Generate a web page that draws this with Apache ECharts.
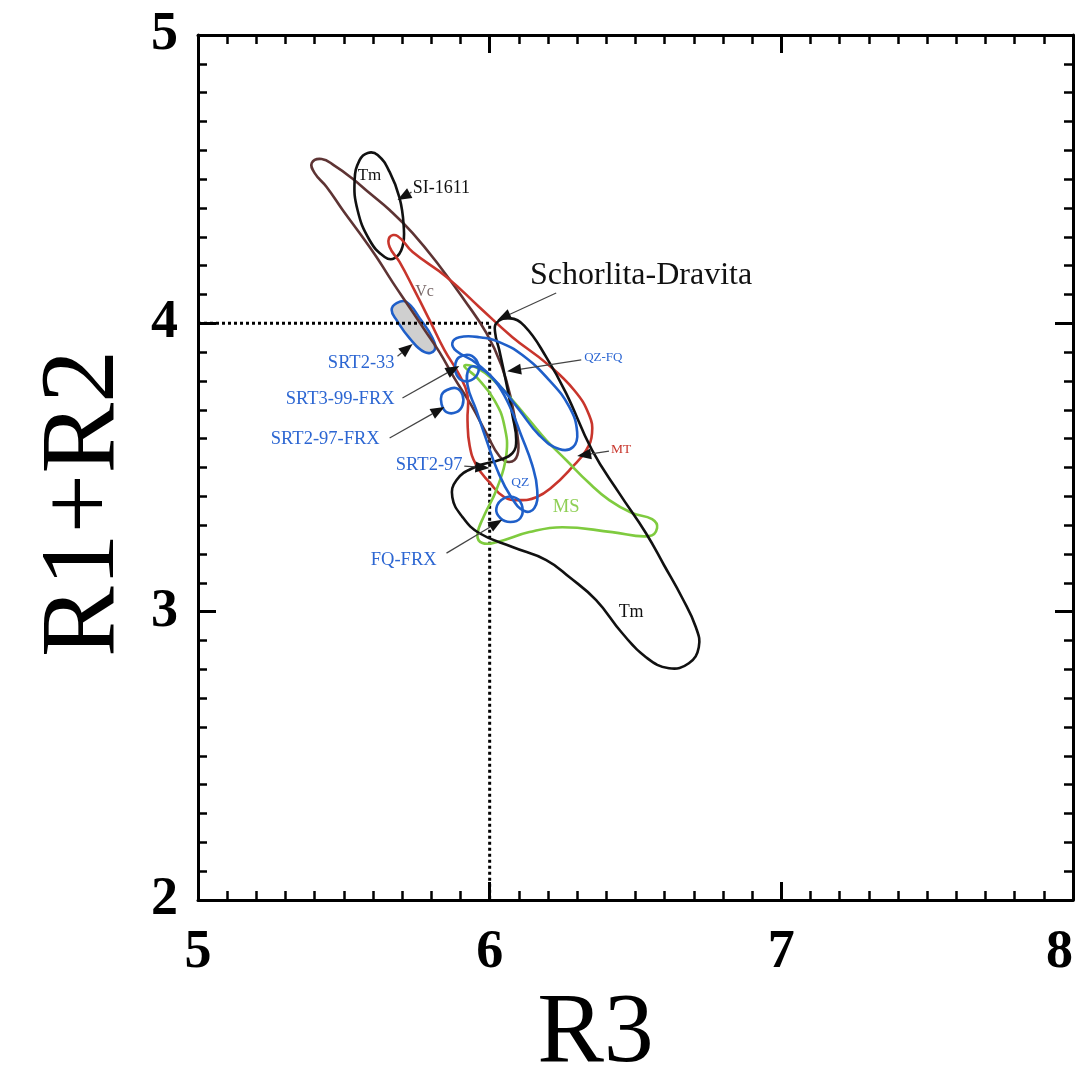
<!DOCTYPE html>
<html><head><meta charset="utf-8">
<script src="https://cdn.jsdelivr.net/npm/echarts@6/dist/echarts.min.js"></script>
<style>html,body{margin:0;padding:0;background:#fff}#chart{width:1089px;height:1081px}</style>
</head><body><div id="chart"></div>
<script>
// ---------------- DATA (axis units) ----------------
const xRange = [5, 8];
const yRange = [2, 5];
const xTickLabels = ['5', '6', '7', '8'];
const yTickLabels = ['2', '3', '4', '5'];
const xName = 'R3';
const yName = 'R1+R2';

// Vc field (brown)
const vcField = [[5.390,4.556],[5.424,4.570],[5.469,4.546],[5.527,4.504],[5.588,4.452],[5.657,4.393],[5.736,4.313],[5.828,4.199],[5.913,4.081],[5.989,3.966],[6.040,3.855],[6.074,3.734],[6.095,3.612],[6.095,3.543],[6.067,3.519],[6.033,3.540],[5.992,3.612],[5.937,3.716],[5.879,3.810],[5.828,3.900],[5.777,3.977],[5.725,4.056],[5.667,4.143],[5.612,4.230],[5.554,4.313],[5.496,4.393],[5.441,4.473],[5.400,4.521]];
// Tm SI-1611 (black, small)
const tmSI1611 = [[5.582,4.591],[5.616,4.584],[5.657,4.525],[5.691,4.435],[5.705,4.341],[5.701,4.265],[5.674,4.226],[5.640,4.230],[5.588,4.289],[5.547,4.393],[5.537,4.497],[5.554,4.566]];
// MT field (red)
const mtField = [[5.657,4.299],[5.684,4.303],[5.736,4.247],[5.852,4.161],[5.965,4.056],[6.078,3.952],[6.194,3.862],[6.290,3.768],[6.341,3.682],[6.351,3.619],[6.331,3.560],[6.283,3.501],[6.214,3.432],[6.160,3.397],[6.102,3.387],[6.050,3.397],[5.999,3.449],[5.954,3.508],[5.931,3.578],[5.924,3.664],[5.924,3.751],[5.896,3.821],[5.845,3.907],[5.794,4.011],[5.742,4.115],[5.691,4.213],[5.657,4.265]];
// Tm Schorlita-Dravita (black, large)
const tmSchorlDrav = [[6.023,4.001],[6.067,4.018],[6.119,3.991],[6.194,3.883],[6.262,3.758],[6.351,3.560],[6.444,3.411],[6.536,3.272],[6.598,3.161],[6.659,3.050],[6.707,2.946],[6.717,2.877],[6.683,2.821],[6.615,2.804],[6.536,2.842],[6.454,2.926],[6.365,3.040],[6.273,3.120],[6.194,3.179],[6.078,3.224],[5.965,3.272],[5.907,3.328],[5.872,3.397],[5.886,3.456],[5.948,3.501],[6.033,3.526],[6.078,3.550],[6.091,3.595],[6.078,3.682],[6.057,3.793],[6.033,3.907],[6.019,3.966]];
// MS field (green)
const msField = [[5.913,3.852],[5.958,3.845],[6.023,3.793],[6.078,3.734],[6.136,3.664],[6.194,3.595],[6.262,3.526],[6.341,3.446],[6.410,3.387],[6.488,3.342],[6.557,3.321],[6.574,3.290],[6.546,3.262],[6.420,3.276],[6.249,3.293],[6.136,3.276],[6.023,3.241],[5.975,3.238],[5.958,3.266],[5.982,3.335],[6.023,3.422],[6.057,3.543],[6.050,3.647],[6.016,3.734],[5.958,3.810]];
// QZ-FQ (blue)
const qzfqField = [[5.872,3.932],[5.896,3.952],[5.965,3.952],[6.033,3.935],[6.112,3.890],[6.204,3.803],[6.273,3.710],[6.300,3.623],[6.286,3.571],[6.238,3.564],[6.170,3.612],[6.102,3.699],[6.033,3.786],[5.954,3.862],[5.886,3.904]];
// QZ (blue)
const qzField = [[5.931,3.845],[5.965,3.845],[6.016,3.803],[6.067,3.716],[6.108,3.612],[6.146,3.508],[6.163,3.422],[6.153,3.359],[6.119,3.349],[6.074,3.397],[6.026,3.491],[5.989,3.595],[5.954,3.699],[5.924,3.786]];
// SRT3-99-FRX (blue loop)
const srt399frx = [[5.896,3.883],[5.931,3.890],[5.958,3.866],[5.961,3.831],[5.937,3.803],[5.903,3.803],[5.883,3.831],[5.883,3.862]];
// SRT2-97-FRX (blue loop)
const srt297frx = [[5.852,3.768],[5.886,3.775],[5.907,3.751],[5.907,3.716],[5.886,3.692],[5.852,3.692],[5.835,3.720],[5.835,3.751]];
// FQ-FRX (blue loop)
const fqfrx = [[6.050,3.394],[6.091,3.394],[6.112,3.363],[6.105,3.324],[6.071,3.311],[6.037,3.324],[6.023,3.359]];
// SRT2-33 (blue, grey filled)
const srt233 = [[5.681,4.070],[5.715,4.074],[5.760,4.018],[5.804,3.949],[5.811,3.907],[5.777,3.900],[5.725,3.949],[5.681,4.011],[5.664,4.046]];

// dotted reference lines (R3 = 6, R1+R2 = 4)
const guideLine = [[5,4],[6,4],[6,2]];

// annotations: text + anchor in axis units
const annText = ['SI-1611','Tm','Vc','Schorlita-Dravita','QZ-FQ','MT','SRT2-33','SRT3-99-FRX','SRT2-97-FRX','SRT2-97','QZ','MS','FQ-FRX','Tm'];
const annAt = [[5.736,4.469],[5.588,4.514],[5.777,4.108],[6.519,4.164],[6.324,3.880],[6.416,3.564],[5.674,3.862],[5.674,3.737],[5.623,3.599],[5.907,3.508],[6.105,3.449],[6.262,3.363],[5.818,3.179],[6.485,2.998]];
// arrows: [tailX, tailY, headX, headY]
const arrows = [[5.732,4.455,5.684,4.428],[6.228,4.105,6.026,4.011],[6.314,3.873,6.060,3.834],[6.409,3.557,6.300,3.540],[5.684,3.886,5.736,3.928],[5.701,3.741,5.896,3.852],[5.657,3.602,5.845,3.710],[5.913,3.505,5.999,3.498],[5.852,3.203,6.043,3.319]];

// ---------------- STYLE ----------------
const BLUE = '#1f5fc9', RED = '#c8352c', BROWN = '#5e3434', GREEN = '#7fcb3f', BLACK = '#111';
const TBLUE = '#2c66d2';
const SERIF = '"Liberation Serif", "Times New Roman", serif';
const annStyle = [
  {c:'#111', s:18, a:'left'}, {c:'#111', s:17, a:'center'}, {c:'#7a6a6a', s:16, a:'center'},
  {c:'#111', s:32, a:'center'}, {c:TBLUE, s:13, a:'left'}, {c:RED, s:13.5, a:'left'},
  {c:TBLUE, s:18.5, a:'right'}, {c:TBLUE, s:18.5, a:'right'}, {c:TBLUE, s:18.5, a:'right'},
  {c:TBLUE, s:18.5, a:'right'}, {c:TBLUE, s:13.5, a:'center'}, {c:'#8fcf55', s:18.5, a:'center'},
  {c:TBLUE, s:18.5, a:'right'}, {c:'#111', s:18, a:'center'}
];

function shapeSeries(pts, stroke, fill, z) {
  return {
    type: 'custom', coordinateSystem: 'cartesian2d', silent: true, animation: false, z: z || 3,
    data: pts, encode: {x: 0, y: 1},
    renderItem: function (params, api) {
      if (params.dataIndex !== 0) return null;
      const p = pts.map(d => api.coord(d));
      return {type: 'polygon', shape: {points: p, smooth: 0.45},
        style: {fill: fill || 'none', stroke: stroke, lineWidth: 2.6}};
    }
  };
}

const chart = echarts.init(document.getElementById('chart'), null, {renderer: 'canvas'});

const commonTick = {inside: true, length: 18, lineStyle: {color: '#000', width: 3}};
const commonMinor = {show: true, splitNumber: 10, length: 9, lineStyle: {color: '#000', width: 2.5}};
const commonLine = {show: true, onZero: false, lineStyle: {color: '#000', width: 3}};

const option = {
  backgroundColor: '#fff',
  animation: false,
  grid: {left: 198, top: 35, right: 16, bottom: 181, containLabel: false, outerBoundsMode: 'none'},
  xAxis: [
    {type: 'value', min: xRange[0], max: xRange[1], interval: 1, position: 'bottom',
     axisLine: commonLine, axisTick: commonTick, minorTick: commonMinor, splitLine: {show: false},
     axisLabel: {margin: 26, color: '#000', fontFamily: SERIF, fontWeight: 'bold', fontSize: 54,
       alignMaxLabel: 'right',
       formatter: v => xTickLabels[Math.round(v - xRange[0])]},
     name: xName, nameLocation: 'middle', nameGap: 82,
     nameTextStyle: {fontFamily: SERIF, fontSize: 100, color: '#000', padding: [0, 80, 0, 0]}},
    {type: 'value', min: xRange[0], max: xRange[1], interval: 1, position: 'top',
     axisLine: commonLine, axisTick: commonTick, minorTick: commonMinor, splitLine: {show: false},
     axisLabel: {show: false}}
  ],
  yAxis: [
    {type: 'value', min: yRange[0], max: yRange[1], interval: 1, position: 'left',
     axisLine: commonLine, axisTick: commonTick, minorTick: commonMinor, splitLine: {show: false},
     axisLabel: {margin: 20, color: '#000', fontFamily: SERIF, fontWeight: 'bold', fontSize: 54,
       formatter: v => yTickLabels[Math.round(v - yRange[0])]},
     name: yName, nameLocation: 'middle', nameGap: 60,
     nameTextStyle: {fontFamily: SERIF, fontSize: 106, color: '#000', padding: [0, 72, 0, 0]}},
    {type: 'value', min: yRange[0], max: yRange[1], interval: 1, position: 'right',
     axisLine: commonLine, axisTick: commonTick, minorTick: commonMinor, splitLine: {show: false},
     axisLabel: {show: false}}
  ],
  series: [
    {type: 'line', data: guideLine, symbol: 'none', silent: true, z: 2,
     lineStyle: {color: '#000', width: 3, type: [3, 3]}},
    shapeSeries(srt233, BLUE, '#cfcfcf', 2),
    shapeSeries(vcField, BROWN),
    shapeSeries(tmSI1611, BLACK),
    shapeSeries(mtField, RED),
    shapeSeries(msField, GREEN),
    shapeSeries(tmSchorlDrav, BLACK),
    shapeSeries(qzfqField, BLUE),
    shapeSeries(qzField, BLUE),
    shapeSeries(srt399frx, BLUE),
    shapeSeries(srt297frx, BLUE),
    shapeSeries(fqfrx, BLUE),
    {type: 'custom', coordinateSystem: 'cartesian2d', silent: true, animation: false, z: 6,
     data: arrows, encode: {x: [0, 2], y: [1, 3]},
     renderItem: function (params, api) {
       const t = api.coord([api.value(0), api.value(1)]);
       const h = api.coord([api.value(2), api.value(3)]);
       const dx = h[0] - t[0], dy = h[1] - t[1], L = Math.hypot(dx, dy) || 1;
       const ux = dx / L, uy = dy / L, len = 14, hw = 5.5;
       const b = [h[0] - ux * len, h[1] - uy * len];
       return {type: 'group', children: [
         {type: 'line', shape: {x1: t[0], y1: t[1], x2: b[0], y2: b[1]}, style: {stroke: '#444', lineWidth: 1.2}},
         {type: 'polygon', shape: {points: [h, [b[0] - uy * hw, b[1] + ux * hw], [b[0] + uy * hw, b[1] - ux * hw]]},
          style: {fill: '#111'}}
       ]};
     }},
    {type: 'custom', coordinateSystem: 'cartesian2d', silent: true, animation: false, z: 7,
     data: annAt, encode: {x: 0, y: 1},
     renderItem: function (params, api) {
       const i = params.dataIndex, st = annStyle[i];
       const p = api.coord([api.value(0), api.value(1)]);
       return {type: 'text', x: p[0], y: p[1],
         style: {text: annText[i], fill: st.c, fontSize: st.s, fontFamily: SERIF,
           align: st.a, verticalAlign: 'middle'}};
     }}
  ]
};
chart.setOption(option);
</script>
</body></html>
